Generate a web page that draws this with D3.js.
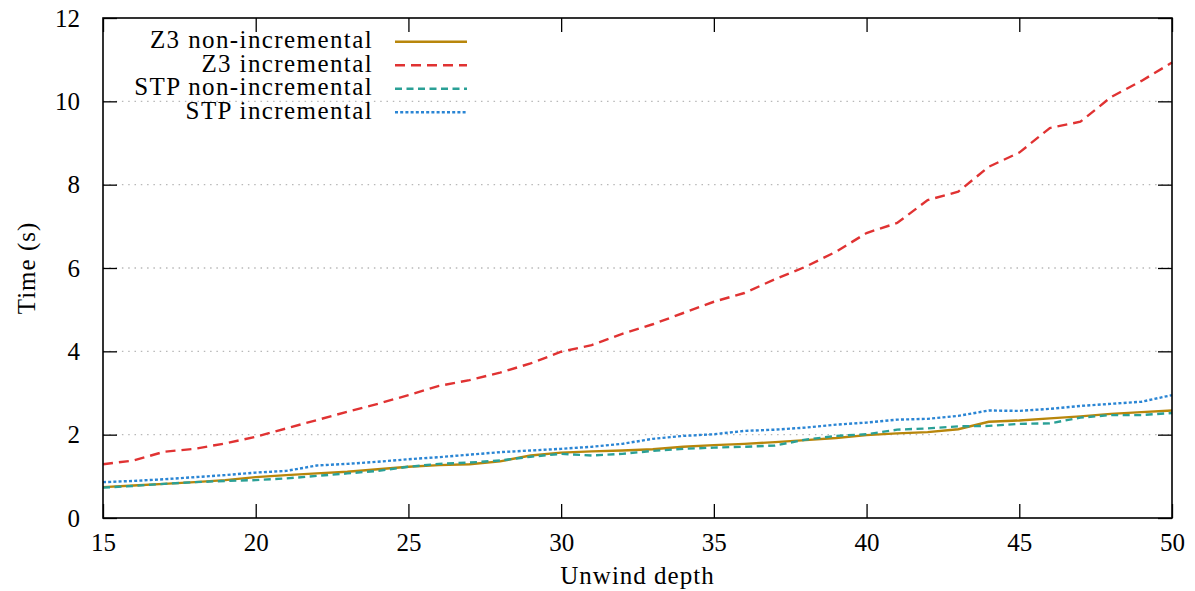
<!DOCTYPE html>
<html>
<head>
<meta charset="utf-8">
<script src="https://cdn.jsdelivr.net/npm/d3@7"></script>
<style>
  body { margin: 0; background: #fff; }
</style>
</head>
<body>
<div id="chart"></div>
<script>
// ---- data ----
var depth = [15, 16, 17, 18, 19, 20, 21, 22, 23, 24, 25, 26, 27, 28, 29, 30, 31, 32,
  33, 34, 35, 36, 37, 38, 39, 40, 41, 42, 43, 44, 45, 46, 47, 48, 49, 50];

var z3NonInc = [0.74, 0.78, 0.82, 0.86, 0.91, 0.98, 1.03, 1.07, 1.11, 1.17, 1.23, 1.27,
  1.29, 1.36, 1.50, 1.57, 1.60, 1.62, 1.65, 1.71, 1.75, 1.78, 1.82, 1.87, 1.92, 1.99,
  2.03, 2.06, 2.13, 2.31, 2.34, 2.39, 2.44, 2.50, 2.54, 2.58];

var z3Inc = [1.29, 1.38, 1.59, 1.66, 1.79, 1.95, 2.15, 2.35, 2.55, 2.74, 2.95, 3.17,
  3.31, 3.49, 3.71, 3.99, 4.15, 4.42, 4.65, 4.92, 5.19, 5.40, 5.73, 6.03, 6.39, 6.84,
  7.08, 7.63, 7.83, 8.43, 8.77, 9.36, 9.51, 10.10, 10.49, 10.93];

var stpNonInc = [0.73, 0.77, 0.82, 0.86, 0.89, 0.91, 0.95, 1.01, 1.07, 1.13, 1.23, 1.30,
  1.33, 1.38, 1.47, 1.54, 1.50, 1.54, 1.61, 1.66, 1.69, 1.71, 1.74, 1.88, 1.97, 2.01,
  2.12, 2.15, 2.20, 2.21, 2.26, 2.27, 2.41, 2.47, 2.47, 2.52];

var stpInc = [0.86, 0.89, 0.93, 0.98, 1.03, 1.09, 1.13, 1.26, 1.30, 1.35, 1.41, 1.46,
  1.52, 1.58, 1.62, 1.66, 1.71, 1.78, 1.90, 1.97, 2.01, 2.09, 2.12, 2.17, 2.24, 2.29,
  2.36, 2.38, 2.45, 2.58, 2.57, 2.62, 2.69, 2.74, 2.79, 2.95];

var seriesNames = ["Z3 non-incremental", "Z3 incremental", "STP non-incremental", "STP incremental"];
var xTicks = [15, 20, 25, 30, 35, 40, 45, 50];
var yTicks = [0, 2, 4, 6, 8, 10, 12];

// ---- chart setup ----
var svgWidth = 1195;
var svgHeight = 591;
var margin = { top: 18, right: 23, bottom: 73, left: 103 };
var width = svgWidth - margin.left - margin.right;
var height = svgHeight - margin.top - margin.bottom;

var serif = "'Liberation Serif', 'DejaVu Serif', serif";
var fontSize = "25px";

var styles = [
  { color: "#b8860b", dash: null },
  { color: "#e03232", dash: "10,6" },
  { color: "#2aa096", dash: "7,4.5" },
  { color: "#2a85d4", dash: "3,2.2" }
];

var svg = d3.select("#chart").append("svg")
  .attr("width", svgWidth)
  .attr("height", svgHeight);

var chartGroup = svg.append("g")
  .attr("transform", `translate(${margin.left}, ${margin.top})`);

var x = d3.scaleLinear().domain([15, 50]).range([0, width]);
var y = d3.scaleLinear().domain([0, 12]).range([height, 0]);

// grid lines
chartGroup.append("g")
  .selectAll("line")
  .data(yTicks.filter(d => d > 0 && d < 12))
  .enter()
  .append("line")
  .attr("x1", 0)
  .attr("x2", width)
  .attr("y1", d => y(d))
  .attr("y2", d => y(d))
  .attr("stroke", "#b8b8b8")
  .attr("stroke-width", 1.3)
  .attr("stroke-dasharray", "1.5,4.8");

// axes (ticks pointing inward, mirrored on top and right)
var bottomAxis = d3.axisBottom(x).tickValues(xTicks).tickSizeInner(-14).tickSizeOuter(0).tickPadding(15);
var topAxis = d3.axisTop(x).tickValues(xTicks).tickSizeInner(-14).tickSizeOuter(0).tickFormat("");
var leftAxis = d3.axisLeft(y).tickValues(yTicks).tickSizeInner(-14).tickSizeOuter(0).tickPadding(23);
var rightAxis = d3.axisRight(y).tickValues(yTicks).tickSizeInner(-14).tickSizeOuter(0).tickFormat("");

chartGroup.append("g").attr("transform", `translate(0, ${height})`).call(bottomAxis);
chartGroup.append("g").call(topAxis);
chartGroup.append("g").call(leftAxis);
chartGroup.append("g").attr("transform", `translate(${width}, 0)`).call(rightAxis);

chartGroup.selectAll(".domain").remove();
chartGroup.selectAll(".tick line").attr("stroke", "#000").attr("stroke-width", 1.3);
chartGroup.selectAll(".tick text")
  .style("font-family", serif)
  .style("font-size", fontSize)
  .attr("fill", "#000");

// series lines
var allSeries = [z3NonInc, z3Inc, stpNonInc, stpInc];

var line = d3.line()
  .x((d, i) => x(depth[i]))
  .y(d => y(d));

chartGroup.append("g")
  .selectAll("path")
  .data(allSeries)
  .enter()
  .append("path")
  .attr("d", d => line(d))
  .attr("fill", "none")
  .attr("stroke", (d, i) => styles[i].color)
  .attr("stroke-width", 2.4)
  .attr("stroke-dasharray", (d, i) => styles[i].dash);

// border
chartGroup.append("rect")
  .attr("width", width)
  .attr("height", height)
  .attr("fill", "none")
  .attr("stroke", "#000")
  .attr("stroke-width", 1.6);

// legend
var legendRows = chartGroup.append("g")
  .selectAll("g")
  .data(seriesNames)
  .enter()
  .append("g")
  .attr("transform", (d, i) => `translate(0, ${23.7 + i * 23.5})`);

legendRows.append("text")
  .attr("x", 270)
  .attr("dy", "0.27em")
  .attr("text-anchor", "end")
  .style("font-family", serif)
  .style("font-size", fontSize)
  .style("letter-spacing", "1.4px")
  .text(d => d);

legendRows.append("line")
  .attr("x1", 292)
  .attr("x2", 364)
  .attr("stroke", (d, i) => styles[i].color)
  .attr("stroke-width", 2.4)
  .attr("stroke-dasharray", (d, i) => styles[i].dash);

// axis titles
svg.append("text")
  .attr("x", margin.left + width / 2)
  .attr("y", 584)
  .attr("text-anchor", "middle")
  .style("font-family", serif)
  .style("font-size", fontSize)
  .style("letter-spacing", "1px")
  .text("Unwind depth");

svg.append("text")
  .attr("transform", `translate(35, ${margin.top + height / 2}) rotate(-90)`)
  .attr("text-anchor", "middle")
  .style("font-family", serif)
  .style("font-size", fontSize)
  .style("letter-spacing", "1px")
  .text("Time (s)");
</script>
</body>
</html>
